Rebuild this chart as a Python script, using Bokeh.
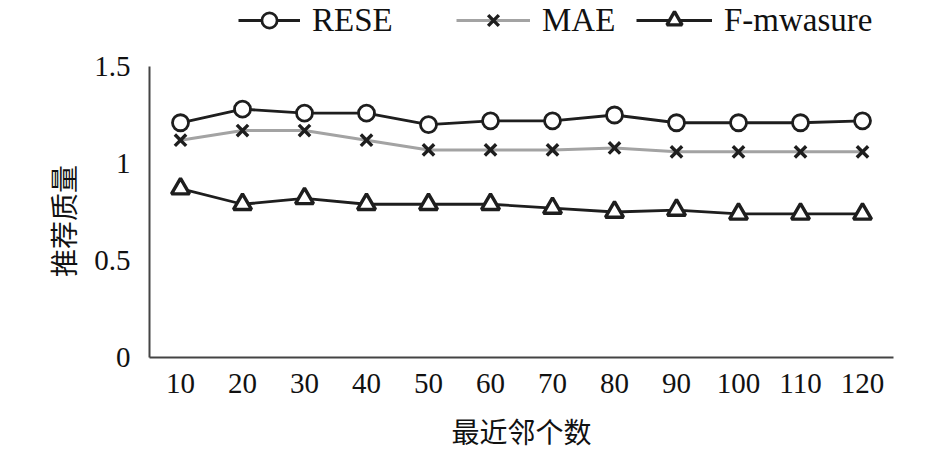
from bokeh.plotting import figure
from bokeh.models import FactorRange, Range1d, FixedTicker, Legend, LegendItem
from bokeh.embed import file_html
from bokeh.resources import INLINE

neighbors = ["10", "20", "30", "40", "50", "60", "70", "80", "90", "100", "110", "120"]
rese = [1.21, 1.28, 1.26, 1.26, 1.20, 1.22, 1.22, 1.25, 1.21, 1.21, 1.21, 1.22]
mae = [1.12, 1.17, 1.17, 1.12, 1.07, 1.07, 1.07, 1.08, 1.06, 1.06, 1.06, 1.06]
fmeasure = [0.87, 0.79, 0.82, 0.79, 0.79, 0.79, 0.77, 0.75, 0.76, 0.74, 0.74, 0.74]
y_ticks = [0, 0.5, 1, 1.5]
y_tick_labels = ["0", "0.5", "1", "1.5"]
series_names = ["RESE", "MAE", "F-mwasure"]

SERIF = "Liberation Serif"
CJK = "Noto Sans CJK SC"

# frame extends above the axis top so the legend (drawn inside the frame) shows
FRAME_H = 357
AXIS_H = 291
y_top = 1.5 * FRAME_H / AXIS_H

p = figure(width=945, height=453, output_backend="svg", toolbar_location=None,
           x_range=FactorRange(*neighbors, range_padding=0),
           y_range=Range1d(0, y_top),
           min_border_left=149, min_border_right=52, min_border_top=0, min_border_bottom=96)
p.outline_line_color = None
p.grid.visible = False
p.background_fill_color = "white"

dark = "#1e1e1e"
gray = "#a3a3a3"

l1 = p.line(neighbors, rese, line_color=dark, line_width=2.8)
m1 = p.scatter(neighbors, rese, marker="circle", size=16, fill_color="white", line_color=dark, line_width=2.8)
l2 = p.line(neighbors, mae, line_color=gray, line_width=3)
m2 = p.scatter(neighbors, mae, marker="x", size=16, line_color=dark, line_width=3.4)
l3 = p.line(neighbors, fmeasure, line_color=dark, line_width=2.8)
m3 = p.scatter(neighbors, fmeasure, marker="triangle", size=18, fill_color="white", line_color=dark, line_width=3.4)

for ax in (p.xaxis[0], p.yaxis[0]):
    ax.axis_line_color = "#444444"
    ax.axis_line_width = 2
    ax.major_tick_in = 0
    ax.major_tick_out = 0
    ax.minor_tick_in = 0
    ax.minor_tick_out = 0
    ax.major_label_text_font = SERIF
    ax.major_label_text_font_size = "29px"
    ax.major_label_text_color = "#111111"
    ax.axis_label_text_font = CJK
    ax.axis_label_text_font_size = "28px"
    ax.axis_label_text_font_style = "normal"
    ax.axis_label_text_color = "#111111"

p.yaxis[0].bounds = (0, 1.5)
p.yaxis[0].ticker = FixedTicker(ticks=y_ticks)
p.yaxis[0].major_label_overrides = {t: s for t, s in zip(y_ticks, y_tick_labels)}
p.yaxis[0].major_label_standoff = 19
# trailing ideographic spaces centre the visible title on the bounded axis line
p.yaxis[0].axis_label = "推荐质量" + "\u3000" * 3
p.yaxis[0].axis_label_standoff = 8
p.xaxis[0].major_label_standoff = 16
p.xaxis[0].axis_label = "最近邻个数"
p.xaxis[0].axis_label_standoff = 15

positions = [(89, 318, 62), (307, 318, 74), (487, 318, 76)]
renders = [(l1, m1), (l2, m2), (l3, m3)]
for name, (x, y, gw), rs in zip(series_names, positions, renders):
    lg = Legend(items=[LegendItem(label=name, renderers=list(rs))], location=(x, y),
                orientation="horizontal", padding=0, margin=0, spacing=0,
                glyph_width=gw, glyph_height=38, label_standoff=12,
                label_text_font=SERIF, label_text_font_size="33px", label_text_color="#111111",
                background_fill_alpha=0, border_line_alpha=0)
    p.add_layout(lg, "center")

open("out.html", "w").write(file_html(p, INLINE))
